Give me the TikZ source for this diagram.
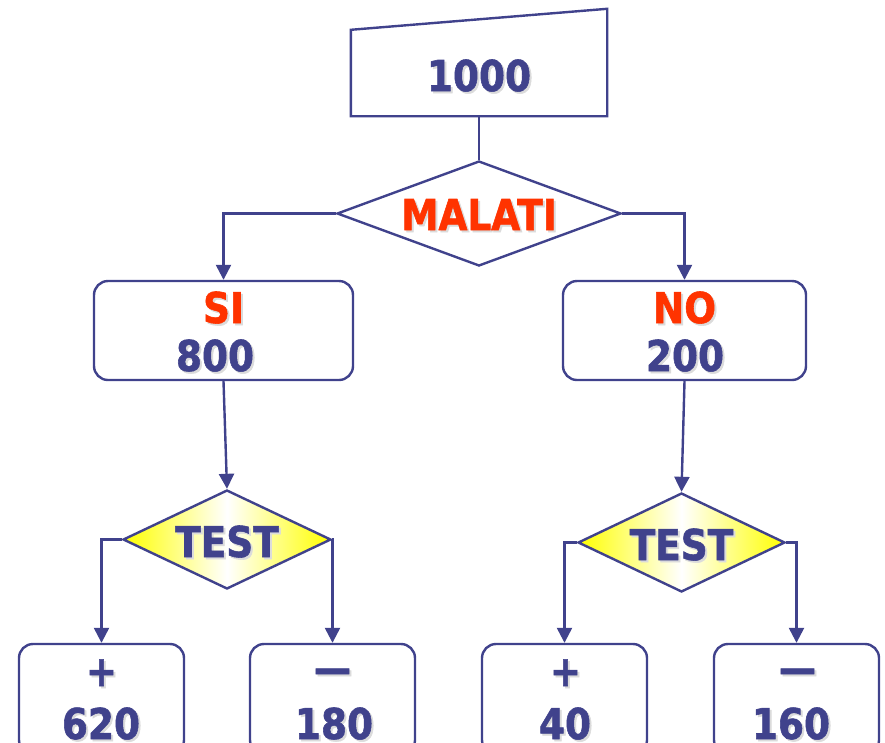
\documentclass[tikz,border=0pt]{standalone}
\usepackage{fontspec}
\usetikzlibrary{shapes.geometric,arrows.meta}
\newfontfamily\lblfont[FakeStretch=0.88,BoldFeatures={FakeBold=1.3}]{DejaVu Sans}
\definecolor{navy}{RGB}{64,66,140}
\definecolor{hot}{RGB}{255,51,0}
\definecolor{lemon}{RGB}{255,255,0}
% text with a soft drop shadow
\newcommand\shtext[1]{\leavevmode\rlap{\kern2pt\raisebox{-2pt}{\textcolor{black!14}{#1}}}#1}
\begin{document}
\begin{tikzpicture}[x=1pt,y=-1pt,
  line/.style={draw=navy,line width=2.4pt},
  arr/.style={line,-{Triangle[width=15pt,length=15pt]}},
  lbl/.style={font=\lblfont\bfseries\fontsize{42.5}{48}\selectfont,text=navy,inner sep=0pt,anchor=base},
  red/.style={lbl,text=hot},
  box/.style={line,rounded corners=14pt,inner sep=0pt,fill=white},
  choice/.style={line,diamond,inner sep=0pt},
  testbox/.style={choice,left color=lemon,right color=lemon,middle color=white}]
\useasboundingbox (0,0) rectangle (885,742);

% start block (manual input shape)
\node[inner sep=0pt,minimum width=256pt,minimum height=86pt] (top) at (479,73) {};
\draw[line,line join=miter] (top.south west) -- (top.south east) -- ([yshift=21pt]top.north east) -- (top.north west) -- cycle;
\node[lbl] (topt) at (479,91) {\shtext{1000}};

% first decision
\node[choice,minimum width=284pt,minimum height=105pt] (mal) at (479,213.5) {};
\node[red] (malt) at (479,230) {\shtext{MALATI}};

% second level
\node[box,minimum width=259pt,minimum height=99pt] (si) at (223.5,330.5) {};
\node[box,minimum width=243pt,minimum height=99pt] (no) at (684.5,330.5) {};
\node[red] (sia) at (223.5,323) {\shtext{SI}};
\node[lbl] (sib) at (215,371) {\shtext{800}};
\node[red] (noa) at (684.5,323) {\shtext{NO}};
\node[lbl] (nob) at (685,371) {\shtext{200}};

% test decisions
\node[testbox,minimum width=208pt,minimum height=99pt] (tl) at (227,539.5) {};
\node[testbox,minimum width=207pt,minimum height=99pt] (tr) at (681.5,542.5) {};
\node[lbl] (tlt) at (227,557) {\shtext{TEST}};
\node[lbl] (trt) at (681.5,560) {\shtext{TEST}};

% outcomes
\node[box,minimum width=165pt,minimum height=110pt] (b1) at (101.5,699) {};
\node[box,minimum width=165pt,minimum height=110pt] (b2) at (332.5,699) {};
\node[box,minimum width=165pt,minimum height=110pt] (b3) at (564.5,699) {};
\node[box,minimum width=165pt,minimum height=110pt] (b4) at (796.5,699) {};
\node[lbl] (b1a) at (101.5,686) {\shtext{+}};
\node[lbl] (b1b) at (101,739) {\shtext{620}};
\node[lbl] (b2a) at (332.5,686) {\shtext{\raisebox{3pt}{—}}};
\node[lbl] (b2b) at (334,739) {\shtext{180}};
\node[lbl] (b3a) at (565.5,686) {\shtext{+}};
\node[lbl] (b3b) at (565,739) {\shtext{40}};
\node[lbl] (b4a) at (797.5,686) {\shtext{\raisebox{3pt}{—}}};
\node[lbl] (b4b) at (791,739) {\shtext{160}};

% connectors
\draw[line] (top.south) -- (mal.north);
\draw[arr] (mal.west) -| (si.north);
\draw[arr] (mal.east) -| (no.north);
\draw[arr] (si.south) -- (tl.north);
\draw[arr] (no.south) -- (tr.north);
\draw[arr] (tl.west) -| (b1.north);
\draw[arr] (tl.east) -| (b2.north);
\draw[arr] (tr.west) -| (b3.north);
\draw[arr] (tr.east) -| (b4.north);
\end{tikzpicture}
\end{document}
